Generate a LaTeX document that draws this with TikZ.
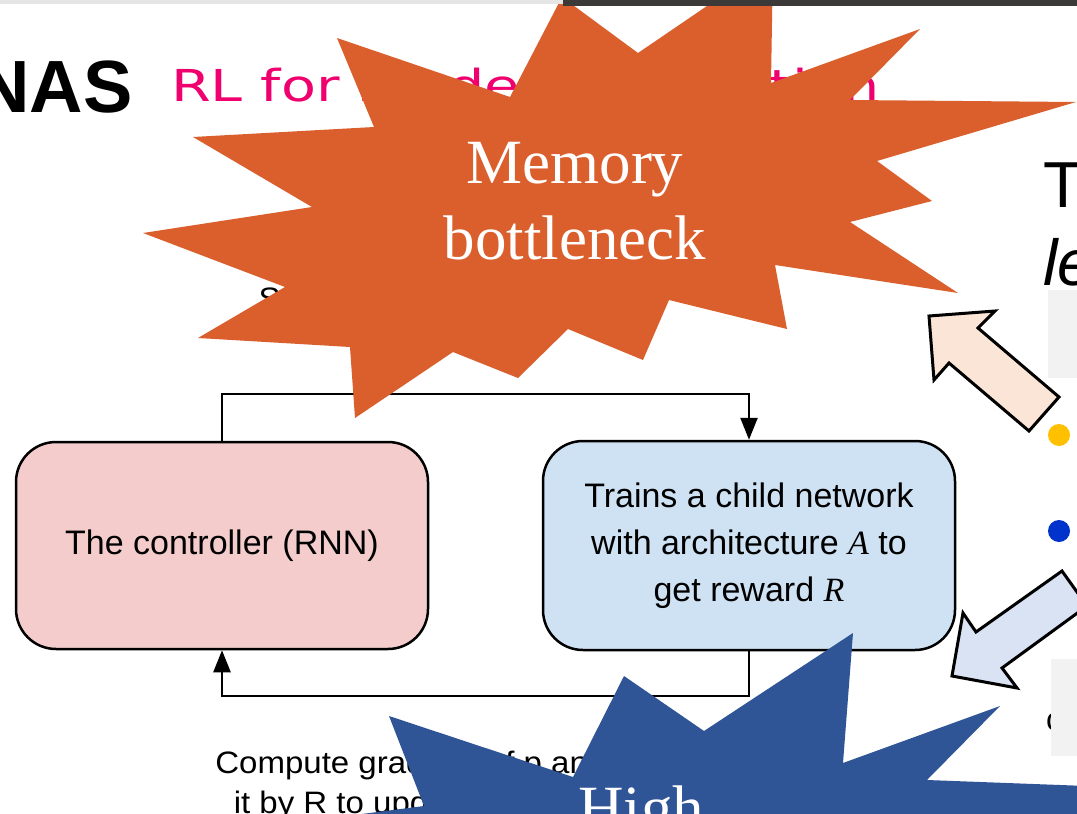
\documentclass[tikz,border=0pt]{standalone}
\usepackage{fontspec}
\setmainfont{Liberation Sans}
\newfontfamily\serifface{Liberation Serif}
\newfontfamily\widesans{Liberation Sans}[FakeStretch=1.065]
\newfontfamily\handfont{DejaVu Sans}[FakeStretch=1.3]
\usetikzlibrary{arrows.meta,calc}

\definecolor{burst}{RGB}{218,95,45}
\definecolor{navyburst}{RGB}{47,85,151}
\definecolor{ctrlfill}{RGB}{244,204,204}
\definecolor{childfill}{RGB}{207,226,243}
\definecolor{peach}{RGB}{251,229,214}
\definecolor{paleblue}{RGB}{218,227,243}
\definecolor{penpink}{RGB}{240,0,110}
\definecolor{panelgray}{RGB}{242,242,242}
\definecolor{barlight}{RGB}{229,229,229}
\definecolor{bardark}{RGB}{60,58,57}
\definecolor{dotyellow}{RGB}{255,192,0}
\definecolor{dotblue}{RGB}{0,51,204}

\tikzset{
  flowbox/.style={draw=black, line width=2.5pt, rounded corners=40pt,
    minimum width=412pt, inner sep=0pt, align=center,
    font=\fontsize{34}{47}\selectfont},
  conn/.style={line width=2.5pt, -{Triangle[length=22pt,width=17pt]}},
  caption/.style={anchor=base, inner sep=0pt, font=\widesans\fontsize{31}{36}\selectfont},
  bursttext/.style={anchor=base, inner sep=0pt, text=white,
    font=\serifface\fontsize{63}{76}\selectfont},
  blockarrow/.style={draw=black, line width=3pt, line join=miter},
  pen/.style={anchor=base west, inner sep=0pt, text=penpink,
    font=\handfont\fontsize{44}{50}\selectfont}
}

\begin{document}
\begin{tikzpicture}[x=1pt,y=-1pt]
\useasboundingbox (0,0) rectangle (1077,814);
\clip (0,0) rectangle (1077,814);
\fill[white] (0,0) rectangle (1077,814);

% slide title and handwritten note
\node[anchor=base east, inner sep=0pt, font=\fontsize{74}{80}\selectfont\bfseries] (nas) at (133,112) {NAS};
\node[pen] (note1) at (171,101) {RL for model};
\node[pen] (note2) at (622,101) {selection};

% right-hand column text
\node[anchor=base west, inner sep=0pt, font=\fontsize{65}{70}\selectfont] (tt) at (1043,207) {T};
\node[anchor=base west, inner sep=0pt, font=\fontsize{65}{70}\selectfont\itshape] (le) at (1043,285) {le};
\node[anchor=base west, inner sep=0pt, font=\fontsize{32}{36}\selectfont] (cc) at (1046,730) {c};
\fill[panelgray] (1048,290) rectangle (1077,378);
\fill[panelgray] (1051,659) rectangle (1077,756);
\fill[dotyellow] (1059,435) circle (11);
\fill[dotblue] (1059,531) circle (11);

% NAS loop
\node[caption] (samp1) at (421,309) {Sample architecture A};
\node[caption] (samp2) at (432,343) {with probability p};
\node[flowbox, fill=ctrlfill, minimum height=207pt] (ctrl) at (222,545.5) {The controller (RNN)};
\node[flowbox, fill=childfill, minimum height=209pt] (child) at (749,545.5)
  {Trains a child network\\with architecture {\serifface\itshape A} to\\get reward {\serifface\itshape R}};
\coordinate (upper) at (0,394);
\coordinate (lower) at (0,696);
\draw[conn] (ctrl.north) |- (child.north |- upper) -- (child.north);
\draw[conn] (child.south) |- (ctrl.south |- lower) -- (ctrl.south);
\node[caption] (grad1) at (454,773) {Compute gradient of p and scale};
\node[caption] (grad2) at (454,813) {it by R to update the controller};

% block arrows
\draw[blockarrow, fill=peach] (929,316) -- (995,311) -- (978,328) -- (1059,397)
  -- (1029,431) -- (949,363) -- (934,380) -- cycle;
\draw[blockarrow, fill=paleblue] (952,676) -- (963,613) -- (976,632) -- (1062,571)
  -- (1087,606) -- (1002,668) -- (1017,688) -- cycle;

% explosion callouts
\fill[burst] (143,233) -- (312,207) -- (193,137) -- (374,127) -- (337,38) -- (510,97)
  -- (562,-3) -- (638,53) -- (773,-39) -- (771,83) -- (920,29) -- (850,100)
  -- (1076,102) -- (877,161) -- (932,201) -- (850,222) -- (958,293) -- (775,265)
  -- (787,329) -- (669,300) -- (643,360) -- (568,329) -- (518,378) -- (453,352)
  -- (355,418) -- (350,347) -- (198,338) -- (285,287) -- cycle;
\node[bursttext] (mem1) at (575,183) {Memory};
\node[bursttext] (mem2) at (575,259) {bottleneck};

\fill[navyburst] (424,806) -- (389,716) -- (573,777) -- (624,676) -- (704,731)
  -- (853,633) -- (843,763) -- (1000,706) -- (927,780) -- (1140,788)
  -- (1000,850) -- (700,900) -- (300,822) -- cycle;
\node[bursttext] (high) at (641,829) {High};

% window bars along the top edge
\fill[barlight] (0,0) rectangle (565,4);
\fill[bardark] (563,0) rectangle (1077,6);
\end{tikzpicture}
\end{document}
